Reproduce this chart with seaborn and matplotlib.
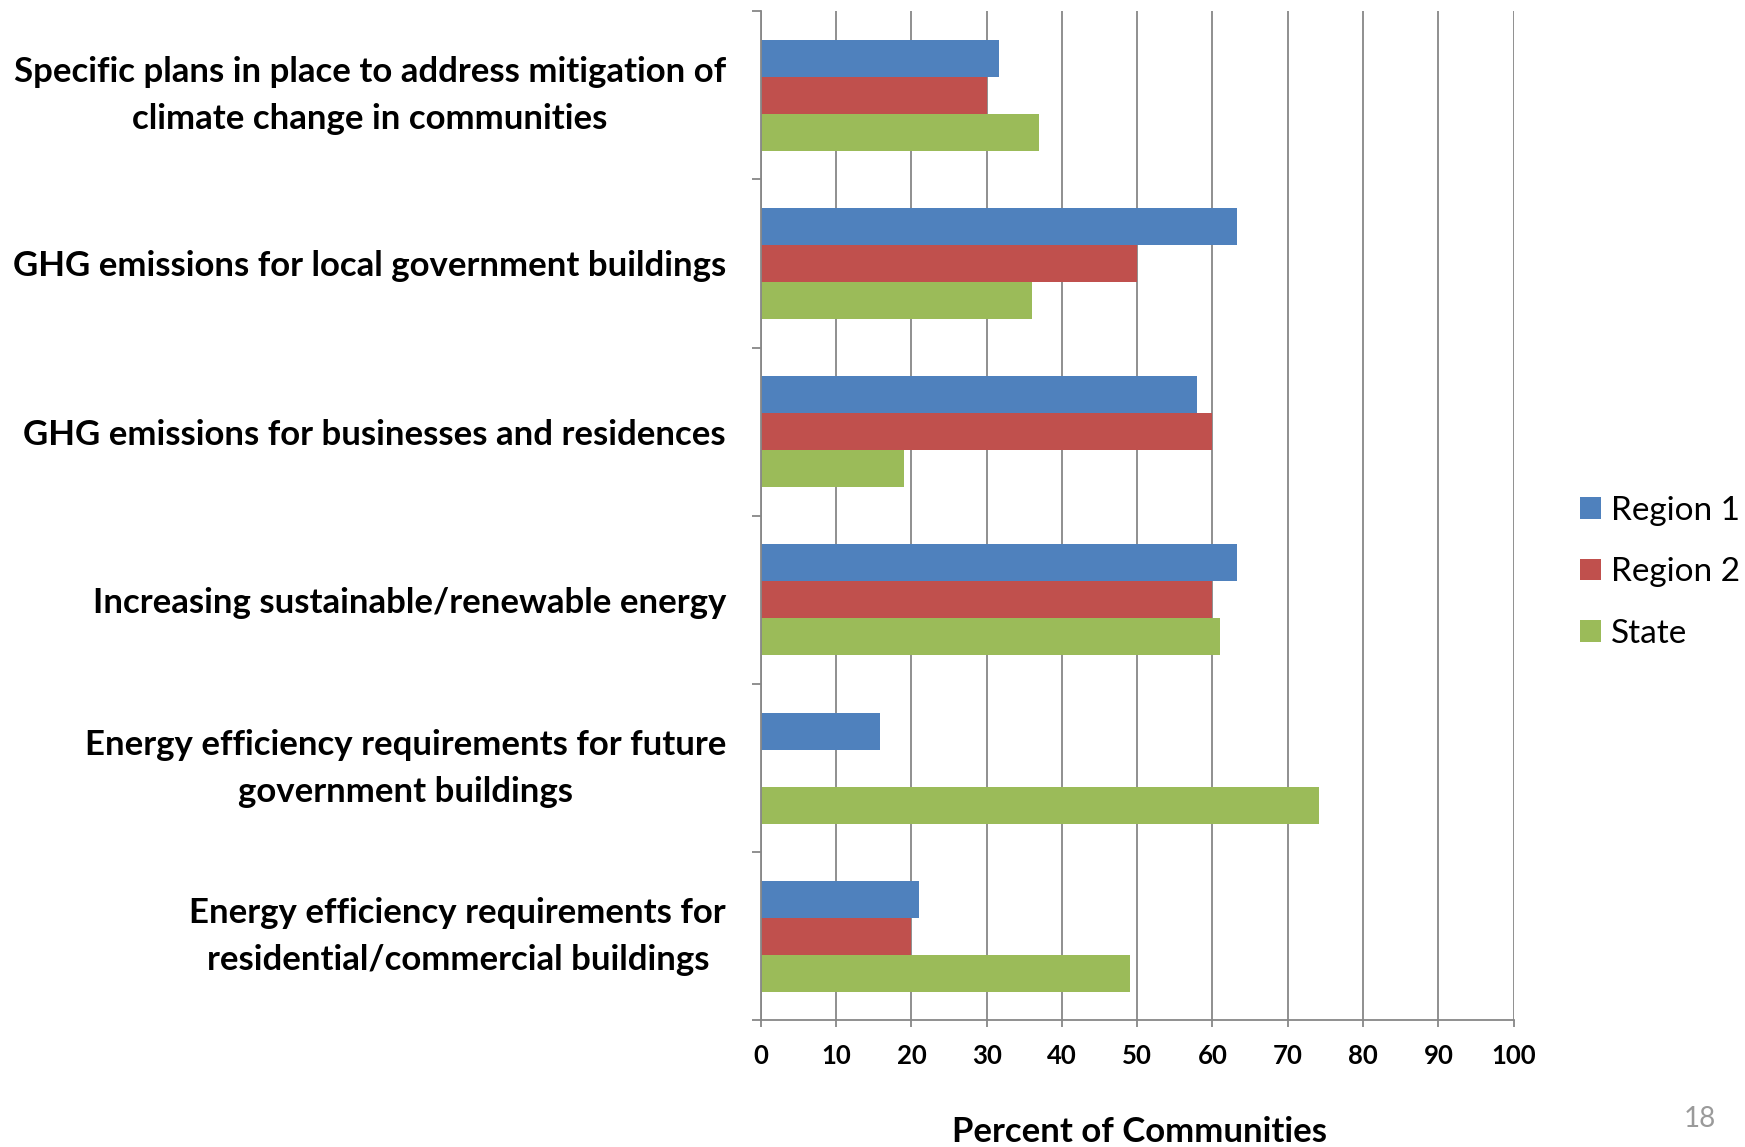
import numpy as np
import pandas as pd
import matplotlib
matplotlib.use("Agg")
import matplotlib.pyplot as plt
import seaborn as sns

categories = [
    "Specific plans in place to address mitigation of\nclimate change in communities",
    "GHG emissions for local government buildings",
    "GHG emissions for businesses and residences",
    "Increasing sustainable/renewable energy",
    "Energy efficiency requirements for future\ngovernment buildings",
    "Energy efficiency requirements for\nresidential/commercial buildings",
]
series = ["Region 1", "Region 2", "State"]
region1 = [31.6, 63.2, 58, 63.2, 15.8, 21]
region2 = [30, 50, 60, 60, 0, 20]
state = [37, 36, 19, 61, 74.1, 49]
colors = ["#4F81BD", "#C0504D", "#9BBB59"]
xticks = [0, 10, 20, 30, 40, 50, 60, 70, 80, 90, 100]

rows = []
for s, vals in zip(series, [region1, region2, state]):
    for c, v in zip(categories, vals):
        rows.append({"category": c, "series": s, "value": v})
df = pd.DataFrame(rows)

sns.set_theme(style="white")
plt.rcParams["font.family"] = ["Lato", "DejaVu Sans"]
plt.rcParams["text.color"] = "black"
plt.rcParams["xtick.labelcolor"] = "black"
plt.rcParams["ytick.labelcolor"] = "black"

fig = plt.figure(figsize=(17.45, 11.47), dpi=100)
ax = fig.add_axes([0.436, 0.1103, 0.8674 - 0.436, 0.9904 - 0.1103])

sns.barplot(data=df, y="category", x="value", hue="series", order=categories,
            hue_order=series, palette=colors, orient="h", width=0.66,
            linewidth=0, saturation=1, ax=ax, legend=True)

grid_c = "#878787"
ax.set_xlim(0, 100)
ax.set_ylim(5.5, -0.5)
ax.set_xticks(xticks)
ax.set_xticklabels([str(t) for t in xticks], fontsize=18.5, fontweight="bold",
                   color="black")
ax.xaxis.grid(True, color=grid_c, linewidth=1.3)
ax.yaxis.grid(False)
ax.set_axisbelow(True)
for sp in ["top", "right"]:
    ax.spines[sp].set_visible(False)
for sp in ["left", "bottom"]:
    ax.spines[sp].set_color(grid_c)
    ax.spines[sp].set_linewidth(1.3)

ax.tick_params(axis="x", which="major", direction="out", length=5, width=1.3,
               color=grid_c, pad=12, bottom=True)
ax.set_yticks(np.arange(-0.5, 6, 1), minor=True)
ax.tick_params(axis="y", which="minor", direction="out", length=6.5, width=1.3,
               color=grid_c, left=True)
ax.tick_params(axis="y", which="major", length=0, pad=25)
for lab in ax.get_yticklabels():
    lab.set_fontsize(25)
    lab.set_fontweight("bold")
    lab.set_color("black")
    lab.set_multialignment("center")
    lab.set_linespacing(1.57)
    if "\n" in lab.get_text():
        lab.set_verticalalignment("center")

ax.set_ylabel("")
ax.set_xlabel("")
fig.text(1140 / 1745, 1 - 1132 / 1147, "Percent of Communities", ha="center",
         va="center", fontsize=25, fontweight="bold", color="black")
fig.text(1700 / 1745, 1 - 1119 / 1147, "18", ha="center", va="center",
         fontsize=20, color="#9a9a9a")

handles, labels = ax.get_legend_handles_labels()
ax.get_legend().remove()
leg = fig.legend(handles, labels, loc="center left", bbox_to_anchor=(1580 / 1745, 0.501),
                 frameon=False, fontsize=24, handlelength=0.62, handleheight=0.62,
                 handletextpad=0.3, labelspacing=0.95, borderpad=0, borderaxespad=0)
for t in leg.get_texts():
    t.set_color("black")

fig.savefig("out.png", dpi=100)
